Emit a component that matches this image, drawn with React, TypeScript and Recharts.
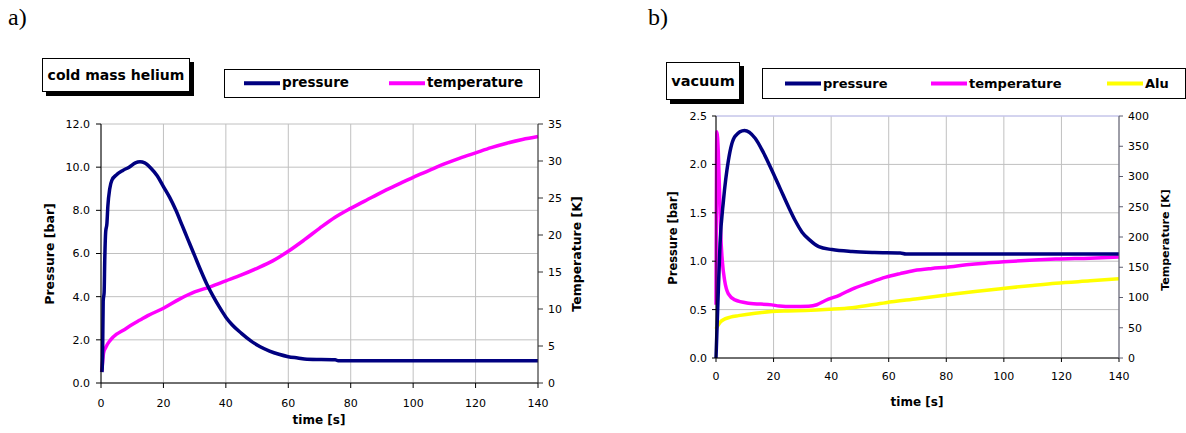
import { LineChart, Line, XAxis, YAxis, CartesianGrid, ReferenceLine } from 'recharts';

const timeTicks = [0, 20, 40, 60, 80, 100, 120, 140];

// a) cold mass helium
const heTimeP = [0.3, 0.5, 0.7, 1.0, 1.2, 1.5, 1.9, 2.2, 2.8, 3.5, 5, 7, 9, 11, 12.5, 14, 16, 18, 20, 22, 24, 26, 28, 30, 32, 34, 36, 38, 40, 42, 45, 48, 51, 54, 57, 60, 63, 66, 75, 76, 100, 140];
const hePressure = [0.5, 1.2, 3.8, 4.2, 5.7, 7.0, 7.4, 8.2, 9.0, 9.4, 9.65, 9.85, 10.0, 10.2, 10.25, 10.2, 9.95, 9.6, 9.1, 8.6, 8.0, 7.3, 6.6, 5.9, 5.2, 4.55, 4.0, 3.5, 3.05, 2.7, 2.3, 1.95, 1.68, 1.48, 1.33, 1.22, 1.16, 1.1, 1.08, 1.03, 1.03, 1.03];
const heTimeT = [0.2, 0.5, 0.8, 1.5, 3, 5, 7, 10, 12.5, 15, 20, 25, 30, 35, 40, 45, 50, 55, 60, 65, 70, 75, 80, 85, 90, 95, 100, 105, 110, 115, 120, 125, 130, 135, 140];
const heTemp = [1.5, 2.8, 4.0, 4.8, 5.8, 6.6, 7.1, 7.9, 8.5, 9.1, 10.1, 11.3, 12.3, 13.0, 13.8, 14.6, 15.5, 16.5, 17.8, 19.3, 20.9, 22.4, 23.6, 24.7, 25.8, 26.8, 27.8, 28.7, 29.6, 30.4, 31.1, 31.8, 32.4, 32.9, 33.3];
const heP_ticks = [0, 2, 4, 6, 8, 10, 12];
const heT_ticks = [0, 5, 10, 15, 20, 25, 30, 35];

// b) vacuum
const vacTimeP = [0, 0.6, 1.4, 2.6, 4.3, 6.6, 9.9, 13.6, 16.5, 19.4, 22.3, 25.2, 27.5, 29.9, 32.5, 35.7, 40.3, 47.3, 55, 64, 66, 140];
const vacPressure = [0, 0.52, 1.18, 1.63, 2.04, 2.29, 2.35, 2.27, 2.12, 1.94, 1.75, 1.56, 1.42, 1.3, 1.22, 1.15, 1.12, 1.1, 1.09, 1.085, 1.075, 1.075];
const vacTimeT = [0, 0.3, 0.8, 1.2, 1.6, 2.2, 3, 4.3, 6.6, 11.3, 19.4, 22, 26.4, 32.2, 35, 38, 43, 47.3, 53, 59, 64, 68.9, 75, 80, 87, 93.5, 100, 105.8, 118, 130, 140];
const vacTemp = [88, 374, 340, 280, 210, 160, 128, 106, 96, 90.6, 87.8, 86, 85, 85.6, 88, 95, 104, 114, 124, 133.6, 139.5, 144.6, 148, 150, 154, 156.8, 159, 160.7, 163.5, 165, 166.8];
const vacTimeAlu = [0, 0.7, 1.4, 3.1, 5, 7.8, 13.6, 19.4, 25, 31, 39.4, 47.3, 59, 70, 80, 90, 99.6, 110, 118, 130, 140];
const vacAlu = [48, 54, 59, 64.6, 67.5, 70, 74, 76.8, 77.8, 78.5, 80.4, 83, 91.5, 98, 104, 110, 115, 120, 123.6, 127.5, 130.8];
const vacP_ticks = [0, 0.5, 1, 1.5, 2, 2.5];
const vacT_ticks = [0, 50, 100, 150, 200, 250, 300, 350, 400];

const zip = (ts: number[], vs: number[]) => ts.map((t, i) => ({ t, v: vs[i] }));

const BLUE = '#000080';
const MAGENTA = '#ff00ff';
const YELLOW = '#ffff00';
const FONT = '"DejaVu Sans", Arial, sans-serif';
const tickStyle = { fontFamily: FONT, fontSize: 11, fill: '#000' };
const LW = 3.5;

const Abs = ({ x, y, children, style }: any) => (
  <div style={{ position: 'absolute', left: x, top: y, ...style }}>{children}</div>
);

const VTitle = ({ x, y, text, size }: any) => (
  <div
    style={{
      position: 'absolute',
      left: x,
      top: y,
      transform: 'translate(-50%, -50%) rotate(-90deg)',
      whiteSpace: 'nowrap',
      fontFamily: FONT,
      fontWeight: 'bold',
      fontSize: size,
      lineHeight: 1,
    }}
  >
    {text}
  </div>
);

const HTitle = ({ x, y, text, size }: any) => (
  <div
    style={{
      position: 'absolute',
      left: x,
      top: y,
      transform: 'translate(-50%, -50%)',
      whiteSpace: 'nowrap',
      fontFamily: FONT,
      fontWeight: 'bold',
      fontSize: size,
      lineHeight: 1,
    }}
  >
    {text}
  </div>
);

const TitleBox = ({ x, y, w, h, text, size }: any) => (
  <div
    style={{
      position: 'absolute',
      left: x,
      top: y,
      width: w,
      height: h,
      boxSizing: 'border-box',
      border: '1px solid #000',
      background: '#fff',
      boxShadow: '4px 4px 0 #000',
      fontFamily: FONT,
      fontWeight: 'bold',
      fontSize: size,
      display: 'flex',
      alignItems: 'center',
      justifyContent: 'center',
      whiteSpace: 'nowrap',
    }}
  >
    {text}
  </div>
);

const LegendItem = ({ x, y, color, label, size }: any) => (
  <div style={{ position: 'absolute', left: x, top: y, display: 'flex', alignItems: 'center', transform: 'translateY(-50%)' }}>
    <div style={{ width: 36, height: 4, background: color, marginRight: 2 }} />
    <span style={{ fontFamily: FONT, fontWeight: 'bold', fontSize: size, lineHeight: 1, whiteSpace: 'nowrap' }}>{label}</span>
  </div>
);

export default function App() {
  return (
    <div style={{ position: 'absolute', left: 0, top: 0, width: 1186, height: 433, background: '#fff', overflow: 'hidden' }}>
      <Abs x={8} y={4} style={{ fontFamily: '"Liberation Serif", "Times New Roman", serif', fontSize: 24 }}>a)</Abs>
      <Abs x={648} y={4} style={{ fontFamily: '"Liberation Serif", "Times New Roman", serif', fontSize: 24 }}>b)</Abs>

      {/* a) cold mass helium */}
      <div style={{ position: 'absolute', left: 0, top: 0 }}>
        <LineChart width={600} height={433} margin={{ top: 124, right: 12, bottom: 10, left: 41 }}>
          <CartesianGrid yAxisId="p" stroke="#c0c0c0" />
          <XAxis
            dataKey="t"
            type="number"
            domain={[0, 140]}
            ticks={timeTicks}
            height={40}
            tick={tickStyle}
            tickSize={5}
            tickMargin={11}
            stroke="#000"
            allowDuplicatedCategory={false}
          />
          <YAxis
            yAxisId="p"
            domain={[0, 12]}
            ticks={heP_ticks}
            width={60}
            tick={tickStyle}
            tickSize={5}
            tickMargin={6}
            stroke="#000"
            tickFormatter={(v: number) => v.toFixed(1)}
          />
          <YAxis
            yAxisId="T"
            orientation="right"
            domain={[0, 35]}
            ticks={heT_ticks}
            width={50}
            tick={tickStyle}
            tickSize={5}
            tickMargin={5}
            stroke="#333"
          />
          <Line yAxisId="T" data={zip(heTimeT, heTemp)} dataKey="v" type="monotone" stroke={MAGENTA} strokeWidth={LW} dot={false} isAnimationActive={false} />
          <Line yAxisId="p" data={zip(heTimeP, hePressure)} dataKey="v" type="monotone" stroke={BLUE} strokeWidth={LW} dot={false} isAnimationActive={false} />
        </LineChart>
      </div>
      <TitleBox x={42} y={58} w={148} h={34} text="cold mass helium" size={14} />
      <div style={{ position: 'absolute', left: 224, top: 69, width: 316, height: 29, boxSizing: 'border-box', border: '1px solid #000', background: '#fff' }} />
      <LegendItem x={244} y={83} color={BLUE} label="pressure" size={13.5} />
      <LegendItem x={389} y={83} color={MAGENTA} label="temperature" size={13.5} />
      <VTitle x={50} y={254} text="Pressure [bar]" size={12.5} />
      <VTitle x={577} y={254} text="Temperature [K]" size={12.5} />
      <HTitle x={319} y={420} text="time [s]" size={12} />

      {/* b) vacuum */}
      <div style={{ position: 'absolute', left: 630, top: 0 }}>
        <LineChart width={556} height={433} margin={{ top: 116, right: 17, bottom: 45, left: 36 }}>
          <CartesianGrid yAxisId="p" stroke="#c0c0c0" />
          <ReferenceLine yAxisId="p" y={2.5} stroke="#c8c8ff" />
          <XAxis
            dataKey="t"
            type="number"
            domain={[0, 140]}
            ticks={timeTicks}
            height={30}
            tick={tickStyle}
            tickSize={4}
            tickMargin={10}
            stroke="#000"
            allowDuplicatedCategory={false}
          />
          <YAxis
            yAxisId="p"
            domain={[0, 2.5]}
            ticks={vacP_ticks}
            width={50}
            tick={tickStyle}
            tickSize={4}
            tickMargin={5}
            stroke="#000"
            tickFormatter={(v: number) => v.toFixed(1)}
          />
          <YAxis
            yAxisId="T"
            orientation="right"
            domain={[0, 400]}
            ticks={vacT_ticks}
            width={50}
            tick={tickStyle}
            tickSize={4}
            tickMargin={5}
            stroke="#5c5c70"
          />
          <Line yAxisId="T" data={zip(vacTimeAlu, vacAlu)} dataKey="v" type="monotone" stroke={YELLOW} strokeWidth={LW} dot={false} isAnimationActive={false} />
          <Line yAxisId="T" data={zip(vacTimeT, vacTemp)} dataKey="v" type="monotone" stroke={MAGENTA} strokeWidth={LW} dot={false} isAnimationActive={false} />
          <Line yAxisId="p" data={zip(vacTimeP, vacPressure)} dataKey="v" type="monotone" stroke={BLUE} strokeWidth={LW} dot={false} isAnimationActive={false} />
        </LineChart>
      </div>
      <TitleBox x={666} y={62} w={74} h={38} text="vacuum" size={14.5} />
      <div style={{ position: 'absolute', left: 762, top: 68, width: 424, height: 31, boxSizing: 'border-box', border: '1px solid #000', background: '#fff' }} />
      <LegendItem x={785} y={83} color={BLUE} label="pressure" size={13} />
      <LegendItem x={931} y={83} color={MAGENTA} label="temperature" size={13} />
      <LegendItem x={1107} y={83} color={YELLOW} label="Alu" size={13} />
      <VTitle x={674} y={238} text="Pressure [bar]" size={11.5} />
      <VTitle x={1165} y={240} text="Temperature [K]" size={11} />
      <HTitle x={917} y={402} text="time [s]" size={12} />
    </div>
  );
}
